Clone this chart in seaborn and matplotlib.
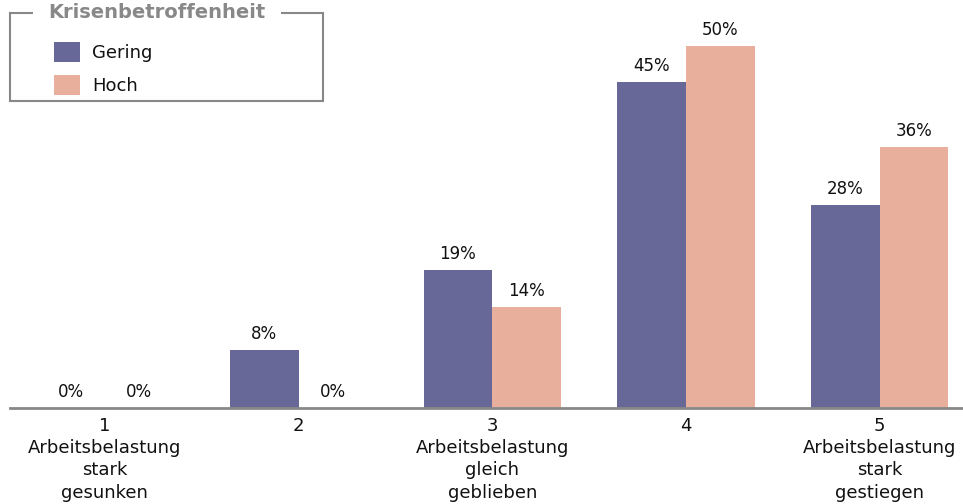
import matplotlib
matplotlib.use("Agg")
import matplotlib.pyplot as plt
import seaborn as sns
import pandas as pd
from matplotlib.patches import Patch, Rectangle

categories = ["1\nArbeitsbelastung\nstark\ngesunken", "2",
              "3\nArbeitsbelastung\ngleich\ngeblieben", "4",
              "5\nArbeitsbelastung\nstark\ngestiegen"]
series_names = ["Gering", "Hoch"]
gering = [0, 8, 19, 45, 28]
hoch = [0, 0, 14, 50, 36]
colors = ["#676798", "#E8B09C"]

df = pd.DataFrame({
    "cat": categories * 2,
    "grp": [series_names[0]] * 5 + [series_names[1]] * 5,
    "val": gering + hoch,
})

sns.set_theme(style="white")
plt.rcParams["font.family"] = ["DejaVu Sans"]

W, H = 963, 504
fig = plt.figure(figsize=(9.63, 5.04), dpi=100)
ax = fig.add_axes([10/W, 96/H, 953/W, 397/H])
sns.barplot(data=df, x="cat", y="val", hue="grp", order=categories,
            hue_order=series_names, palette=colors, width=0.71,
            saturation=1, ax=ax, legend=False, errorbar=None,
            linewidth=0, edgecolor="none")
ax.set_xlim(-0.49, 4.43)
ax.set_ylim(0, 54.8)
for c in ax.containers:
    ax.bar_label(c, labels=[f"{v:.0f}%" for v in c.datavalues],
                 padding=5, fontsize=12, color="#111111")
for s in ["top", "left", "right"]:
    ax.spines[s].set_visible(False)
ax.spines["bottom"].set_color("#888888")
ax.spines["bottom"].set_linewidth(2)
ax.set_yticks([])
ax.set_xlabel("")
ax.set_ylabel("")
ax.tick_params(axis="x", length=0, pad=6.5, labelsize=13, colors="#111111")
for t in ax.get_xticklabels():
    t.set_linespacing(1.3)

# legend frame
fig.patches.append(Rectangle((10/W, 1 - 101/H), 313/W, 88/H, transform=fig.transFigure,
                             facecolor="none", edgecolor="#888888", linewidth=1.5, zorder=5))
handles = [Patch(facecolor=colors[i], edgecolor="none", label=series_names[i]) for i in range(2)]
leg = fig.legend(handles=handles, loc="upper left",
                 bbox_to_anchor=(54/W, 1 - 42/H), bbox_transform=fig.transFigure,
                 frameon=False, fontsize=13, labelcolor="#111111",
                 handlelength=1.45, handleheight=1.3, handletextpad=0.65,
                 borderpad=0, labelspacing=0.75, borderaxespad=0)
fig.text(48/W, 1 - 13/H, "Krisenbetroffenheit", ha="left", va="center",
         fontsize=14, fontweight="bold", color="#888888", zorder=10,
         bbox=dict(facecolor="white", edgecolor="none", pad=11))

fig.savefig("out.png", dpi=100)
